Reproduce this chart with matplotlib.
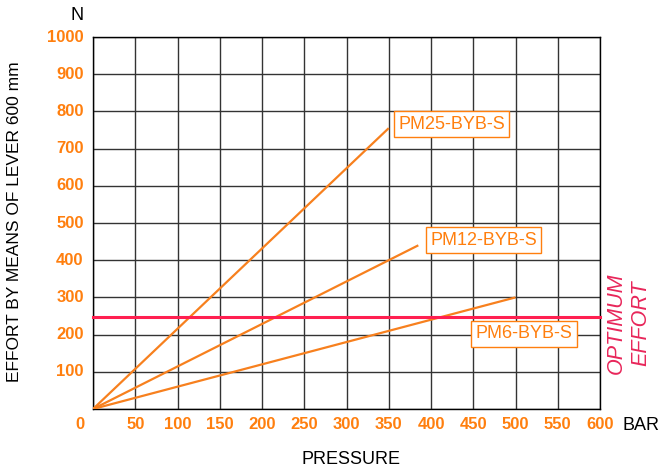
import matplotlib
matplotlib.use("Agg")
import matplotlib.pyplot as plt
import numpy as np

plt.rcParams['font.family'] = ['Liberation Sans', 'DejaVu Sans']

# Data
series_names = ["PM25-BYB-S", "PM12-BYB-S", "PM6-BYB-S"]
series_x = [[0, 350], [0, 385], [0, 500]]
series_y = [[0, 755], [0, 440], [0, 300]]
optimum_effort = 248
x_ticks = [50, 100, 150, 200, 250, 300, 350, 400, 450, 500, 550, 600]
y_ticks = [100, 200, 300, 400, 500, 600, 700, 800, 900, 1000]

ORANGE = "#ff7f0e"
LINE_ORANGE = "#f7801e"
RED = "#ff1f50"
RED_TXT = "#e8265a"

fig = plt.figure(figsize=(6.62, 4.71), dpi=100)
ax = fig.add_axes([93/662, 1-409/471, (600-93)/662, (409-37)/471])
ax.set_xlim(0, 600)
ax.set_ylim(0, 1000)

ax.set_xticks(np.arange(0, 601, 50))
ax.set_yticks(np.arange(0, 1001, 100))
ax.grid(True, color="#333333", linewidth=1.0)
ax.set_axisbelow(True)
ax.tick_params(length=0, labelbottom=False, labelleft=False)
for s in ax.spines.values():
    s.set_color("black")
    s.set_linewidth(1.0)

for xs, ys in zip(series_x, series_y):
    ax.plot(xs, ys, color=LINE_ORANGE, linewidth=1.6, solid_capstyle='butt', zorder=3)

ax.plot([0, 600], [optimum_effort, optimum_effort], color=RED, linewidth=2.2, zorder=4, clip_on=False)

# tick labels
for t in x_ticks:
    ax.text(t, -43, str(t), color=ORANGE, fontsize=12, fontweight='bold',
            ha='center', va='center')
ax.text(-15, -43, "0", color=ORANGE, fontsize=12, fontweight='bold', ha='center', va='center')
for t in y_ticks:
    ax.text(-11, t, str(t), color=ORANGE, fontsize=12, fontweight='bold',
            ha='right', va='center')

# series labels
bbox = dict(boxstyle='square,pad=0.25', facecolor='white', edgecolor=ORANGE, linewidth=1.0)
label_pos = [(361, 766), (399, 454), (453, 202)]
for name, (lx, ly) in zip(series_names, label_pos):
    ax.text(lx, ly, name, color=ORANGE, fontsize=13, ha='left', va='center', bbox=bbox, zorder=5)

# axis texts
fig.text(77/662, 1-15/471, "N", fontsize=13, ha='center', va='center')
fig.text(641/662, 1-425/471, "BAR", fontsize=13, ha='center', va='center')
fig.text(351/662, 1-460/471, "PRESSURE", fontsize=13, ha='center', va='center')
fig.text(15/662, 1-222/471, "EFFORT BY MEANS OF LEVER 600 mm", fontsize=12.5,
         rotation=90, ha='center', va='center')
fig.text(616/662, 1-323/471, "OPTIMUM", fontsize=15.5, style='italic', color=RED_TXT,
         rotation=90, ha='center', va='center')
fig.text(641/662, 1-323/471, "EFFORT", fontsize=15.5, style='italic', color=RED_TXT,
         rotation=90, ha='center', va='center')

fig.savefig("out.png", dpi=100)
